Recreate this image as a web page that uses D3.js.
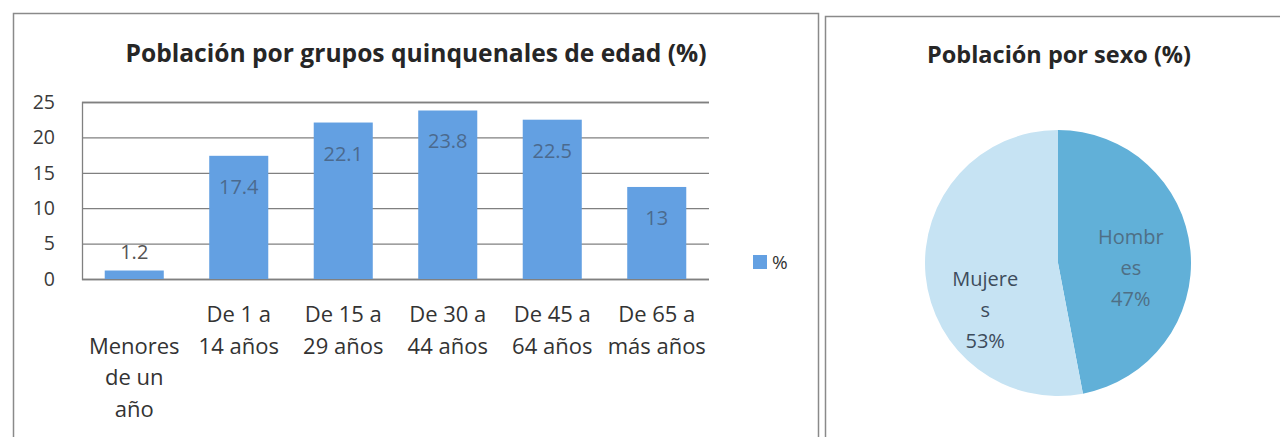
<!DOCTYPE html>
<html>
<head>
<meta charset="utf-8">
<script src="https://cdn.jsdelivr.net/npm/d3@7"></script>
<style>
  html, body { margin: 0; padding: 0; background: #fff; }
  svg { display: block; font-family: "Open Sans", "Noto Sans", sans-serif; }
</style>
</head>
<body>
<svg id="chart" width="1280" height="437"></svg>
<script>
// Bar chart data
const categories = ["Menores de un año", "De 1 a 14 años", "De 15 a 29 años", "De 30 a 44 años", "De 45 a 64 años", "De 65 a más años"];
const categoryLines = [["Menores", "de un", "año"], ["De 1 a", "14 años"], ["De 15 a", "29 años"], ["De 30 a", "44 años"], ["De 45 a", "64 años"], ["De 65 a", "más años"]];
const values = [1.2, 17.4, 22.1, 23.8, 22.5, 13];
const yTicks = [0, 5, 10, 15, 20, 25];
const seriesName = "%";
const barTitle = "Población por grupos quinquenales de edad (%)";

// Pie chart data
const sexNames = ["Hombres", "Mujeres"];
const sexValues = [47, 53];
const sexLabelLines = [["Hombr", "es", "47%"], ["Mujere", "s", "53%"]];
const pieTitle = "Población por sexo (%)";

const svg = d3.select('#chart');

// panel frames
svg.append('rect')
  .attr('x', 13.5).attr('y', 13.5).attr('width', 805).attr('height', 440)
  .attr('fill', 'none').attr('stroke', '#8a8a8a').attr('stroke-width', 1.5);
svg.append('rect')
  .attr('x', 825.5).attr('y', 16.5).attr('width', 480).attr('height', 440)
  .attr('fill', 'none').attr('stroke', '#8a8a8a').attr('stroke-width', 1.5);

// ---------- bar chart ----------
const plot = {left: 82, right: 709, top: 102, bottom: 279};

const x = d3.scaleBand()
  .domain(categories)
  .range([plot.left, plot.right])
  .paddingInner(0.435)
  .paddingOuter(0.2175);

const y = d3.scaleLinear()
  .domain([0, d3.max(yTicks)])
  .range([plot.bottom, plot.top]);

svg.append('text')
  .attr('x', 416).attr('y', 62)
  .attr('text-anchor', 'middle')
  .attr('font-weight', 'bold').attr('font-size', 24.6)
  .attr('fill', '#262626')
  .text(barTitle);

// gridlines + tick labels
const yAxis = svg.append('g')
  .attr('transform', `translate(${plot.left},0)`)
  .call(d3.axisLeft(y).tickValues(yTicks).tickSize(-(plot.right - plot.left)).tickPadding(27));
yAxis.select('.domain').attr('stroke', '#808080').attr('stroke-width', 1.3);
yAxis.selectAll('.tick line').attr('stroke', '#808080').attr('stroke-width', 1.3);
yAxis.selectAll('.tick text')
  .attr('font-size', 19.5).attr('fill', '#3a3a3a')
  .attr('font-family', '"Open Sans", sans-serif');

// bars
svg.selectAll('rect.bar').data(values)
  .enter().append('rect')
  .attr('class', 'bar')
  .attr('x', (d, i) => x(categories[i]))
  .attr('y', d => y(d))
  .attr('width', x.bandwidth())
  .attr('height', d => y(0) - y(d))
  .attr('fill', '#63a0e2');

// data labels
svg.selectAll('text.lbl').data(values)
  .enter().append('text')
  .attr('class', 'lbl')
  .attr('x', (d, i) => x(categories[i]) + x.bandwidth() / 2)
  .attr('y', d => (y(0) - y(d) > 40) ? y(d) + 38 : y(d) - 12)
  .attr('text-anchor', 'middle')
  .attr('font-size', 20)
  .attr('fill', d => (y(0) - y(d) > 40) ? '#4b6a8e' : '#555')
  .text(d => d);

// category labels
const lineH = 31.7;
categoryLines.forEach((lines, i) => {
  const t = svg.append('text')
    .attr('text-anchor', 'middle')
    .attr('font-size', 22)
    .attr('fill', '#333');
  const y0 = 322 + (lines.length > 2 ? lineH : 0);
  lines.forEach((ln, j) => {
    t.append('tspan')
      .attr('x', x(categories[i]) + x.bandwidth() / 2)
      .attr('y', y0 + j * lineH)
      .text(ln);
  });
});

// legend
svg.append('rect')
  .attr('x', 753).attr('y', 255).attr('width', 14).attr('height', 14)
  .attr('fill', '#63a0e2');
svg.append('text')
  .attr('x', 772).attr('y', 262).attr('dy', '0.35em')
  .attr('font-size', 19).attr('fill', '#333')
  .text(seriesName);

// ---------- pie chart ----------
const cx = 1058, cy = 263, radius = 133;
const pieColor = d3.scaleOrdinal().domain(sexNames).range(['#61b0d8', '#c6e3f3']);

svg.append('text')
  .attr('x', 1059).attr('y', 63)
  .attr('text-anchor', 'middle')
  .attr('font-weight', 'bold').attr('font-size', 23.5)
  .attr('fill', '#262626')
  .text(pieTitle);

const pie = d3.pie().sort(null).value(d => d);
const arc = d3.arc().innerRadius(0).outerRadius(radius);
const labelArc = d3.arc().innerRadius(radius * 0.55).outerRadius(radius * 0.55);
const arcs = pie(sexValues);

const pg = svg.append('g').attr('transform', `translate(${cx},${cy})`);
pg.selectAll('path').data(arcs)
  .enter().append('path')
  .attr('d', arc)
  .attr('fill', (d, i) => pieColor(sexNames[i]));

// labels shifted down a little like the Excel layout
const labelShift = [12, 40];
const labelFill = ['#4f6f85', '#3d4c5c'];
arcs.forEach((a, i) => {
  const c = labelArc.centroid(a);
  const lines = sexLabelLines[i];
  const t = pg.append('text')
    .attr('text-anchor', 'middle')
    .attr('font-size', 20)
    .attr('fill', labelFill[i]);
  lines.forEach((ln, j) => {
    t.append('tspan')
      .attr('x', c[0])
      .attr('y', c[1] + labelShift[i] + (j - 1) * 31 + 7)
      .text(ln);
  });
});
</script>
</body>
</html>
